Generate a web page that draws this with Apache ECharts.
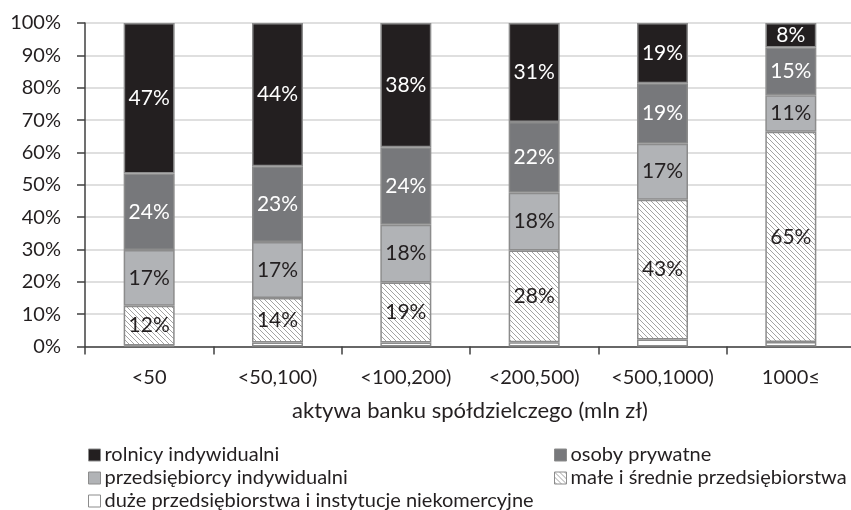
<!DOCTYPE html>
<html><head><meta charset="utf-8">
<script src="https://cdn.jsdelivr.net/npm/echarts@6/dist/echarts.min.js"></script>
<style>html,body{margin:0;padding:0;background:#fff}#c{width:851px;height:510px}</style>
</head><body><div id="c"></div>
<script>
const categories = ['<50', '<50,100)', '<100,200)', '<200,500)', '<500,1000)', '1000≤'];
const yTicks = [0, 10, 20, 30, 40, 50, 60, 70, 80, 90, 100];
const duze = [0.3, 1.2, 1.2, 1.3, 2.2, 1.4];
const male = [12.3, 13.8, 18.6, 28.4, 43.2, 65.0];
const przed = [17.2, 17.3, 17.8, 17.8, 17.3, 11.3];
const osoby = [23.7, 23.4, 24.0, 21.9, 18.7, 14.7];
const rolnicy = [46.5, 44.3, 38.4, 30.6, 18.6, 7.6];
const names = ['rolnicy indywidualni', 'osoby prywatne', 'przedsiębiorcy indywidualni', 'małe i średnie przedsiębiorstwa', 'duże przedsiębiorstwa i instytucje niekomercyjne'];

const FONT = 'Lato';
const pc = document.createElement('canvas');
pc.width = 5; pc.height = 5;
const ctx = pc.getContext('2d');
ctx.fillStyle = '#ffffff'; ctx.fillRect(0, 0, 5, 5);
ctx.strokeStyle = '#a3a3a3'; ctx.lineWidth = 1;
for (const off of [-5, 0, 5]) {
  ctx.beginPath(); ctx.moveTo(off - 1, -1); ctx.lineTo(off + 6, 6); ctx.stroke();
}
const hatch = { image: pc, repeat: 'repeat' };

function mk(name, data, color, labelColor, showLabel) {
  return {
    name: name, type: 'bar', stack: 'all', data: data, barWidth: 51,
    itemStyle: { color: color, borderColor: '#8c8c8c', borderWidth: 1.5 },
    label: {
      show: showLabel, position: 'inside', color: labelColor,
      fontFamily: FONT, fontSize: 21,
      formatter: p => Math.round(p.value) + '%'
    },
    emphasis: { disabled: true }, animation: false
  };
}

function leg(name, left, top) {
  return {
    data: [name], orient: 'horizontal', left: left, top: top, padding: 0,
    itemWidth: 12, itemHeight: 12, icon: 'rect',
    itemStyle: { borderColor: '#8c8c8c', borderWidth: 1 },
    textStyle: { fontFamily: FONT, fontSize: 20, color: '#231f20', lineHeight: 20, padding: [0, 0, 0, -1] },
    selectedMode: false
  };
}

const chart = echarts.init(document.getElementById('c'), null, { renderer: 'canvas' });
chart.setOption({
  animation: false,
  backgroundColor: '#ffffff',
  grid: { left: 85, width: 770, top: 23, bottom: 163.5, containLabel: false, outerBoundsMode: 'none' },
  xAxis: {
    type: 'category', data: categories,
    name: 'aktywa banku spółdzielczego (mln zł)', nameLocation: 'middle', nameGap: 53,
    nameTextStyle: { fontFamily: FONT, fontSize: 22, color: '#231f20' },
    axisLine: { lineStyle: { color: '#404040', width: 1.5 } },
    axisTick: { show: true, length: 8, alignWithLabel: false, lineStyle: { color: '#404040', width: 1.5 } },
    axisLabel: { fontFamily: FONT, fontSize: 20, color: '#231f20', margin: 21, interval: 0 },
    splitLine: { show: false }
  },
  yAxis: {
    type: 'value', min: yTicks[0], max: yTicks[yTicks.length - 1], interval: 10,
    axisLine: { show: true, lineStyle: { color: '#404040', width: 1.5 } },
    axisTick: { show: true, length: 8, lineStyle: { color: '#404040', width: 1.5 } },
    axisLabel: { fontFamily: FONT, fontSize: 20, color: '#231f20', margin: 24, formatter: '{value}%' },
    splitLine: { show: true, lineStyle: { color: '#d4d4d4', width: 1.5 } }
  },
  legend: [
    leg(names[0], 88, 445),
    leg(names[2], 88, 468),
    leg(names[4], 88, 491),
    leg(names[1], 554, 445),
    leg(names[3], 554, 468)
  ],
  series: [
    mk(names[4], duze, '#ffffff', '#231f20', false),
    mk(names[3], male, hatch, '#231f20', true),
    mk(names[2], przed, '#b1b3b6', '#231f20', true),
    mk(names[1], osoby, '#77787b', '#ffffff', true),
    mk(names[0], rolnicy, '#231f20', '#ffffff', true)
  ]
});
</script></body></html>
